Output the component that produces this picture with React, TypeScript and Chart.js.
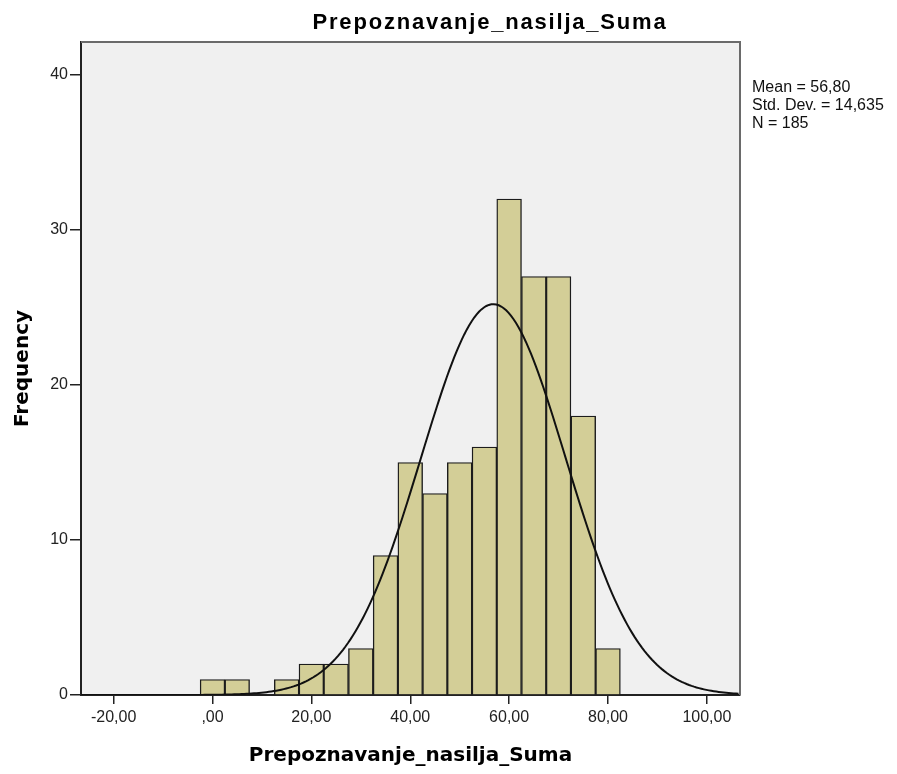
import React, { useEffect, useRef } from "react";
import { Chart, registerables } from "chart.js";

Chart.register(...registerables);

const TITLE = "Prepoznavanje_nasilja_Suma";
const X_TITLE = "Prepoznavanje_nasilja_Suma";
const Y_TITLE = "Frequency";

const BIN_CENTERS = [0, 5, 15, 20, 25, 30, 35, 40, 45, 50, 55, 60, 65, 70, 75, 80];
const FREQUENCIES = [1, 1, 1, 2, 2, 3, 9, 15, 13, 15, 16, 32, 27, 27, 18, 3];

const X_TICK_VALUES = [-20, 0, 20, 40, 60, 80, 100];
const X_TICK_LABELS = ["-20,00", ",00", "20,00", "40,00", "60,00", "80,00", "100,00"];
const Y_TICK_VALUES = [0, 10, 20, 30, 40];
const Y_TICK_LABELS = ["0", "10", "20", "30", "40"];

const STATS_LINES = ["Mean = 56,80", "Std. Dev. = 14,635", "N = 185"];
const MEAN = 56.8;
const STD_DEV = 14.635;
const N_CASES = 185;
const BIN_WIDTH = 5;

const X_MIN = -26.6;
const X_MAX = 106.7;
const Y_MAX = 42.13;

// Fitted normal curve defined by the reported Mean / Std. Dev. / N
const CURVE_X: number[] = [];
for (let x = X_MIN; x <= X_MAX + 0.001; x += 0.5) CURVE_X.push(x);
const normalCount = (x: number) =>
  ((N_CASES * BIN_WIDTH) / (STD_DEV * Math.sqrt(2 * Math.PI))) *
  Math.exp(-((x - MEAN) ** 2) / (2 * STD_DEV * STD_DEV));

const decor = {
  id: "decor",
  beforeDraw(chart: any) {
    const { ctx, chartArea: a } = chart;
    ctx.save();
    ctx.fillStyle = "#f0f0f0";
    ctx.fillRect(a.left, a.top, a.right - a.left, a.bottom - a.top);
    ctx.restore();
  },
  afterDraw(chart: any) {
    const { ctx, chartArea: a } = chart;
    ctx.save();
    ctx.strokeStyle = "#6a6a6a";
    ctx.lineWidth = 2;
    ctx.beginPath();
    ctx.moveTo(a.left, a.top);
    ctx.lineTo(a.right, a.top);
    ctx.lineTo(a.right, a.bottom);
    ctx.stroke();

    ctx.fillStyle = "#000";
    ctx.font = 'bold 22px "Liberation Sans", Arial, sans-serif';
    try {
      (ctx as any).letterSpacing = "1.8px";
    } catch (e) {}
    ctx.textAlign = "center";
    ctx.textBaseline = "alphabetic";
    ctx.fillText(TITLE, 490, 29);
    try {
      (ctx as any).letterSpacing = "0px";
    } catch (e) {}

    ctx.fillStyle = "#111";
    ctx.font = '16px "Liberation Sans", Arial, sans-serif';
    ctx.textAlign = "left";
    STATS_LINES.forEach((line, i) => {
      ctx.fillText(line, 752, 91.5 + i * 18);
    });
    ctx.restore();
  },
};

export default function App() {
  const canvasRef = useRef<HTMLCanvasElement | null>(null);

  useEffect(() => {
    if (!canvasRef.current) return;
    const chart = new Chart(canvasRef.current, {
      type: "bar",
      data: {
        datasets: [
          {
            type: "line",
            data: CURVE_X.map((x) => ({ x, y: normalCount(x) })),
            borderColor: "#111",
            borderWidth: 2,
            pointRadius: 0,
            fill: false,
            tension: 0,
            order: 0,
          } as any,
          {
            type: "bar",
            data: BIN_CENTERS.map((x, i) => ({ x, y: FREQUENCIES[i] })),
            backgroundColor: "#d3ce97",
            borderColor: "#1c1c1c",
            borderWidth: 1.4,
            barPercentage: 1,
            categoryPercentage: 1,
            order: 1,
          } as any,
        ],
      },
      options: {
        animation: false,
        responsive: true,
        maintainAspectRatio: false,
        layout: { padding: { left: 0, right: 157, top: 42, bottom: 0 } },
        plugins: {
          legend: { display: false },
          tooltip: { enabled: false },
          title: { display: false },
        },
        scales: {
          x: {
            type: "linear",
            min: X_MIN,
            max: X_MAX,
            offset: false,
            afterBuildTicks: (s: any) => {
              s.ticks = X_TICK_VALUES.map((v) => ({ value: v }));
            },
            afterFit: (s: any) => {
              s.height = 79;
            },
            grid: {
              offset: false,
              drawOnChartArea: false,
              drawTicks: true,
              tickLength: 9,
              color: "#222",
              lineWidth: 1.5,
            },
            border: { display: true, color: "#222", width: 2 },
            ticks: {
              autoSkip: false,
              maxRotation: 0,
              padding: 4,
              color: "#222",
              font: { family: '"Liberation Sans", Arial, sans-serif', size: 16 },
              callback: (_v: any, i: number) => X_TICK_LABELS[i],
            },
            title: {
              display: true,
              text: X_TITLE,
              color: "#000",
              font: { family: '"DejaVu Sans", sans-serif', size: 20, weight: "bold" },
              padding: { top: 0, bottom: 6 },
            },
          },
          y: {
            type: "linear",
            min: 0,
            max: Y_MAX,
            afterBuildTicks: (s: any) => {
              s.ticks = Y_TICK_VALUES.map((v) => ({ value: v }));
            },
            afterFit: (s: any) => {
              s.width = 81;
            },
            grid: {
              drawOnChartArea: false,
              drawTicks: true,
              tickLength: 11,
              color: "#222",
              lineWidth: 1.5,
            },
            border: { display: true, color: "#222", width: 2 },
            ticks: {
              padding: 2,
              color: "#222",
              font: { family: '"Liberation Sans", Arial, sans-serif', size: 16 },
              callback: (_v: any, i: number) => Y_TICK_LABELS[i],
            },
            title: {
              display: true,
              text: Y_TITLE,
              color: "#000",
              font: { family: '"DejaVu Sans", sans-serif', size: 20, weight: "bold" },
              padding: { top: 11, bottom: 0 },
            },
          },
        },
      },
      plugins: [decor],
    });
    return () => chart.destroy();
  }, []);

  return (
    <div style={{ position: "fixed", left: 0, top: 0, width: 897, height: 774, background: "#fff" }}>
      <canvas ref={canvasRef} />
    </div>
  );
}
